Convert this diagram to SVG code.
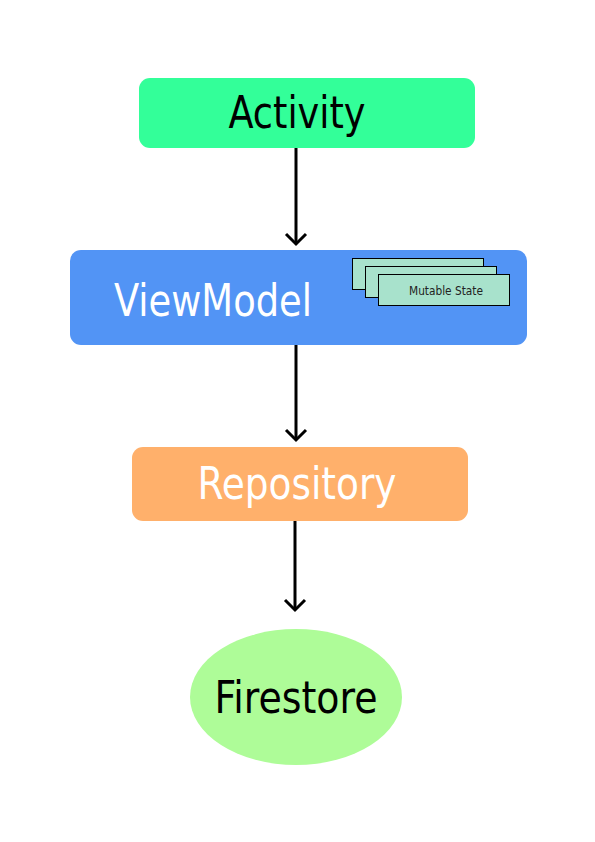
<svg xmlns="http://www.w3.org/2000/svg" width="595" height="842" viewBox="0 0 595 842">
<style>
.t{font-family:"Liberation Sans Narrow","DejaVu Sans Condensed","Liberation Sans",sans-serif;text-anchor:middle}
.big{font-size:44px}
.conn{stroke:#000;stroke-width:3;fill:none}
.card{fill:#a8e2cc;stroke:#000;stroke-width:1}
</style>
<rect width="595" height="842" fill="#fff"/>
<g id="connectors">
<line class="conn" x1="296" y1="148" x2="296" y2="244"/>
<path d="M286,234 L296,244 L306,234" class="conn"/>
<line class="conn" x1="296" y1="345" x2="296" y2="440"/>
<path d="M286,430 L296,440 L306,430" class="conn"/>
<line class="conn" x1="295" y1="521" x2="295" y2="610"/>
<path d="M285,600 L295,610 L305,600" class="conn"/>
</g>
<g id="activity">
<rect x="139" y="78" width="336" height="70" rx="11" fill="#33ff99"/>
<text class="t big" x="297" y="128" fill="#000" textLength="137" lengthAdjust="spacingAndGlyphs">Activity</text>
</g>
<g id="viewmodel">
<rect x="70" y="250" width="457" height="95" rx="11" fill="#5294f5"/>
<text class="t big" x="213" y="316" fill="#fff" textLength="198" lengthAdjust="spacingAndGlyphs">ViewModel</text>
</g>
<g id="mutable-state">
<rect class="card" x="352.5" y="258.5" width="131" height="31"/>
<rect class="card" x="365.5" y="266.5" width="131" height="31"/>
<rect class="card" x="378.5" y="274.5" width="131" height="31"/>
<text class="t" x="446" y="295" font-size="12" fill="#222" textLength="74" lengthAdjust="spacingAndGlyphs">Mutable State</text>
</g>
<g id="repository">
<rect x="132" y="447" width="336" height="74" rx="11" fill="#ffb06b"/>
<text class="t big" x="297" y="499" fill="#fff" textLength="199" lengthAdjust="spacingAndGlyphs">Repository</text>
</g>
<g id="firestore">
<ellipse cx="296" cy="697" rx="106" ry="68" fill="#aefc98"/>
<text class="t big" x="296" y="713" fill="#000" textLength="163" lengthAdjust="spacingAndGlyphs">Firestore</text>
</g>
</svg>
